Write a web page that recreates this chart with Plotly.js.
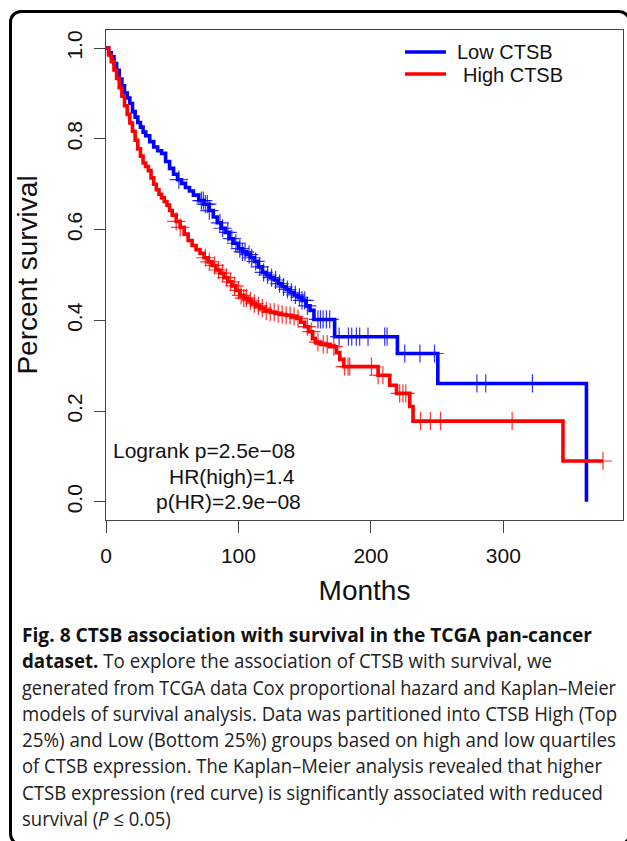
<!DOCTYPE html>
<html>
<head>
<meta charset="utf-8">
<script src="https://cdn.plot.ly/plotly-3.0.1.min.js"></script>
<style>
  html, body { margin: 0; padding: 0; background: #fff; }
  #wrap { position: relative; width: 627px; height: 841px; overflow: hidden; background: #fff; }
  #plot { position: absolute; left: 0; top: 0; width: 627px; height: 841px; }
  #frame { position: absolute; left: 9px; top: 10px; width: 622px; height: 836px;
           border: 3px solid #000; border-radius: 12px; box-sizing: border-box; pointer-events: none; }
  .cap { position: absolute; left: 22px; height: 26px; line-height: 26px; white-space: nowrap;
         font-family: "Open Sans", "Noto Sans", sans-serif; font-size: 20px; color: #222;
         transform-origin: 0 50%; }
  .cap b { color: #111; font-weight: 700; }
</style>
</head>
<body>
<div id="wrap">
  <div id="plot"></div>
  <div id="caption"></div>
  <div id="frame"></div>
</div>
<script>
// ---- Data ----
const lowTime = [0,2,4,6,8,10,12,14,16,18,20,22,24,26,28,30,33,36,39,42,45,48,51,54,57,60,63,66,70,74,78,81,84,87,90,93,96,100,103,106,109,112,115,118,121,124,127,130,133,136,139,142,145,148,151,154,157,172.6,220,250.5,362.7];
const lowSurv = [1.0,0.990,0.981,0.966,0.951,0.932,0.917,0.901,0.890,0.878,0.860,0.848,0.836,0.826,0.815,0.807,0.794,0.782,0.774,0.768,0.750,0.735,0.722,0.710,0.702,0.693,0.685,0.676,0.664,0.656,0.642,0.628,0.615,0.603,0.594,0.580,0.570,0.558,0.551,0.545,0.538,0.530,0.518,0.506,0.500,0.494,0.489,0.481,0.474,0.468,0.462,0.456,0.451,0.444,0.432,0.422,0.402,0.364,0.327,0.261,0.0];
const lowCensor = [55,72,73.5,75,76.5,78,86,88,92,95,98,101,103,105,108,110,113,116,119,122,125,128,131,134,137,140,143,146,148,150,152,160,161.9,163.9,166.4,168.9,176,183,185.5,189,191.5,197.8,210.4,212.2,225.5,237,248,280,286.7,321.9];

const highTime = [0,2,4,6,8,10,12,14,16,18,20,22,24,26,28,30,32,34,36,38,40,42,44,46,48,50,53,56,59,62,65,68,71,74,77,80,83,86,89,92,95,98,101,104,107,110,113,116,120,124,128,132,136,140,144,147,150,153,156,158,162,169,174,176.5,179.5,205.4,214.2,219.3,229.3,231.8,345,375.2];
const highSurv = [1.0,0.985,0.970,0.952,0.933,0.913,0.894,0.873,0.854,0.835,0.817,0.797,0.778,0.762,0.747,0.739,0.730,0.714,0.700,0.688,0.678,0.670,0.662,0.654,0.642,0.632,0.618,0.605,0.590,0.576,0.565,0.556,0.548,0.538,0.529,0.521,0.511,0.504,0.494,0.485,0.476,0.466,0.455,0.449,0.443,0.437,0.432,0.427,0.421,0.418,0.415,0.413,0.411,0.409,0.404,0.396,0.386,0.375,0.360,0.352,0.347,0.342,0.329,0.314,0.298,0.279,0.257,0.239,0.210,0.178,0.090,0.090];
const highCensor = [53,56,75,78,82,85,88,91,94,97,100,102,104,106,109,112,115,118,121,124,127,130,133,136,139,142,145,152,155,160,164,167,172,180.2,182.7,184,200.4,205.4,209,221.7,224.2,226.3,237.4,244.9,252.5,306.6,375.2];

const seriesNames = ["Low CTSB", "High CTSB"];
const xTicks = [0, 100, 200, 300];
const yTicks = [0.0, 0.2, 0.4, 0.6, 0.8, 1.0];
const yTickText = ["0.0", "0.2", "0.4", "0.6", "0.8", "1.0"];
const statsLines = ["Logrank p=2.5e\u221208", "HR(high)=1.4", "p(HR)=2.9e\u221208"];

const captionLines = [
  "<b>Fig. 8 CTSB association with survival in the TCGA pan-cancer</b>",
  "<b>dataset.</b> To explore the association of CTSB with survival, we",
  "generated from TCGA data Cox proportional hazard and Kaplan\u2013Meier",
  "models of survival analysis. Data was partitioned into CTSB High (Top",
  "25%) and Low (Bottom 25%) groups based on high and low quartiles",
  "of CTSB expression. The Kaplan\u2013Meier analysis revealed that higher",
  "CTSB expression (red curve) is significantly associated with reduced",
  "survival (<i>P</i> \u2264 0.05)"
];

// ---- helpers ----
function survAt(times, surv, t) {
  let v = surv[0];
  for (let i = 0; i < times.length; i++) { if (times[i] <= t) v = surv[i]; else break; }
  return v;
}

const BLUE = "#0000FF", RED = "#FF0000";
const FONT = "Liberation Sans, Arial, Helvetica, sans-serif";

const traces = [
  { x: lowTime, y: lowSurv, type: "scatter", mode: "lines", line: { shape: "hv", color: BLUE, width: 3.6 },
    name: seriesNames[0], showlegend: false, hoverinfo: "skip" },
  { x: highTime, y: highSurv, type: "scatter", mode: "lines", line: { shape: "hv", color: RED, width: 3.6 },
    name: seriesNames[1], showlegend: false, hoverinfo: "skip" },
  { x: lowCensor, y: lowCensor.map(t => survAt(lowTime, lowSurv, t)), type: "scatter", mode: "markers",
    marker: { symbol: "cross-thin", size: 13, line: { color: "rgba(0,0,255,0.8)", width: 1.2 } },
    showlegend: false, hoverinfo: "skip" },
  { x: highCensor, y: highCensor.map(t => survAt(highTime, highSurv, t)), type: "scatter", mode: "markers",
    marker: { symbol: "cross-thin", size: 13, line: { color: "rgba(255,0,0,0.8)", width: 1.2 } },
    showlegend: false, hoverinfo: "skip" }
];

// plot area: x 106..623, y 30..520
const L = 106, R = 623, T = 30, B = 520;
const px = v => (v - L) / (R - L);
const py = v => (B - v) / (B - T);

const layout = {
  width: 627, height: 841,
  margin: { l: L, r: 627 - R, t: T, b: 841 - B },
  paper_bgcolor: "#fff", plot_bgcolor: "#fff",
  showlegend: false,
  font: { family: FONT, color: "#111" },
  xaxis: {
    range: [0, 390.3], tickvals: xTicks, ticktext: xTicks.map(String),
    showgrid: false, zeroline: false, showline: true, mirror: true, linecolor: "#444", linewidth: 1,
    ticks: "outside", ticklen: 12, tickcolor: "#444", tickwidth: 1,
    tickfont: { size: 21, family: FONT, color: "#111" }, ticklabelstandoff: 5,
    title: { text: "Months", font: { size: 28, family: FONT, color: "#111" }, standoff: 14 }
  },
  yaxis: {
    range: [-0.04, 1.04], tickvals: yTicks, ticktext: yTickText, tickangle: -90,
    showgrid: false, zeroline: false, showline: true, mirror: true, linecolor: "#444", linewidth: 1,
    ticks: "outside", ticklen: 11, tickcolor: "#444", tickwidth: 1,
    tickfont: { size: 21, family: FONT, color: "#111" }, ticklabelstandoff: 4,
    title: { text: "Percent survival", font: { size: 28, family: FONT, color: "#111" }, standoff: 16 }
  },
  shapes: [
    { type: "line", xref: "paper", yref: "paper", x0: px(405), x1: px(446), y0: py(52), y1: py(52),
      line: { color: BLUE, width: 3.6 } },
    { type: "line", xref: "paper", yref: "paper", x0: px(405), x1: px(446), y0: py(74), y1: py(74),
      line: { color: RED, width: 3.6 } }
  ],
  annotations: [
    { xref: "paper", yref: "paper", x: px(455), y: py(52), xanchor: "left", yanchor: "middle", showarrow: false,
      text: seriesNames[0], font: { size: 20, family: FONT, color: "#111" } },
    { xref: "paper", yref: "paper", x: px(461), y: py(75), xanchor: "left", yanchor: "middle", showarrow: false,
      text: seriesNames[1], font: { size: 20, family: FONT, color: "#111" } },
    { xref: "paper", yref: "paper", x: px(297), y: py(450), xanchor: "right", yanchor: "middle", showarrow: false,
      text: statsLines[0], font: { size: 21, family: FONT, color: "#111" } },
    { xref: "paper", yref: "paper", x: px(297), y: py(476.5), xanchor: "right", yanchor: "middle", showarrow: false,
      text: statsLines[1], font: { size: 21, family: FONT, color: "#111" } },
    { xref: "paper", yref: "paper", x: px(303), y: py(501.5), xanchor: "right", yanchor: "middle", showarrow: false,
      text: statsLines[2], font: { size: 21, family: FONT, color: "#111" } }
  ]
};

Plotly.newPlot("plot", traces, layout, { staticPlot: true, displayModeBar: false });

// ---- caption (HTML text below the chart) ----
const capCenters = [635, 661, 687.5, 714, 740, 766, 792.5, 819];
const capRight = [592, 552, 616, 617, 616, 602, 603, null];
const cap = document.getElementById("caption");
const scales = [];
captionLines.forEach((html, i) => {
  const d = document.createElement("div");
  d.className = "cap";
  d.innerHTML = html;
  d.style.top = (capCenters[i] - 13) + "px";
  cap.appendChild(d);
});
const divs = cap.querySelectorAll(".cap");
divs.forEach((d, i) => {
  if (capRight[i] !== null) {
    const w = d.getBoundingClientRect().width;
    const s = (capRight[i] - 22) / w;
    if (i >= 2) scales.push(s);
    d.style.transform = "scaleX(" + s.toFixed(4) + ")";
  }
});
const avg = scales.reduce((a, b) => a + b, 0) / scales.length;
divs[divs.length - 1].style.transform = "scaleX(" + avg.toFixed(4) + ")";
</script>
</body>
</html>
